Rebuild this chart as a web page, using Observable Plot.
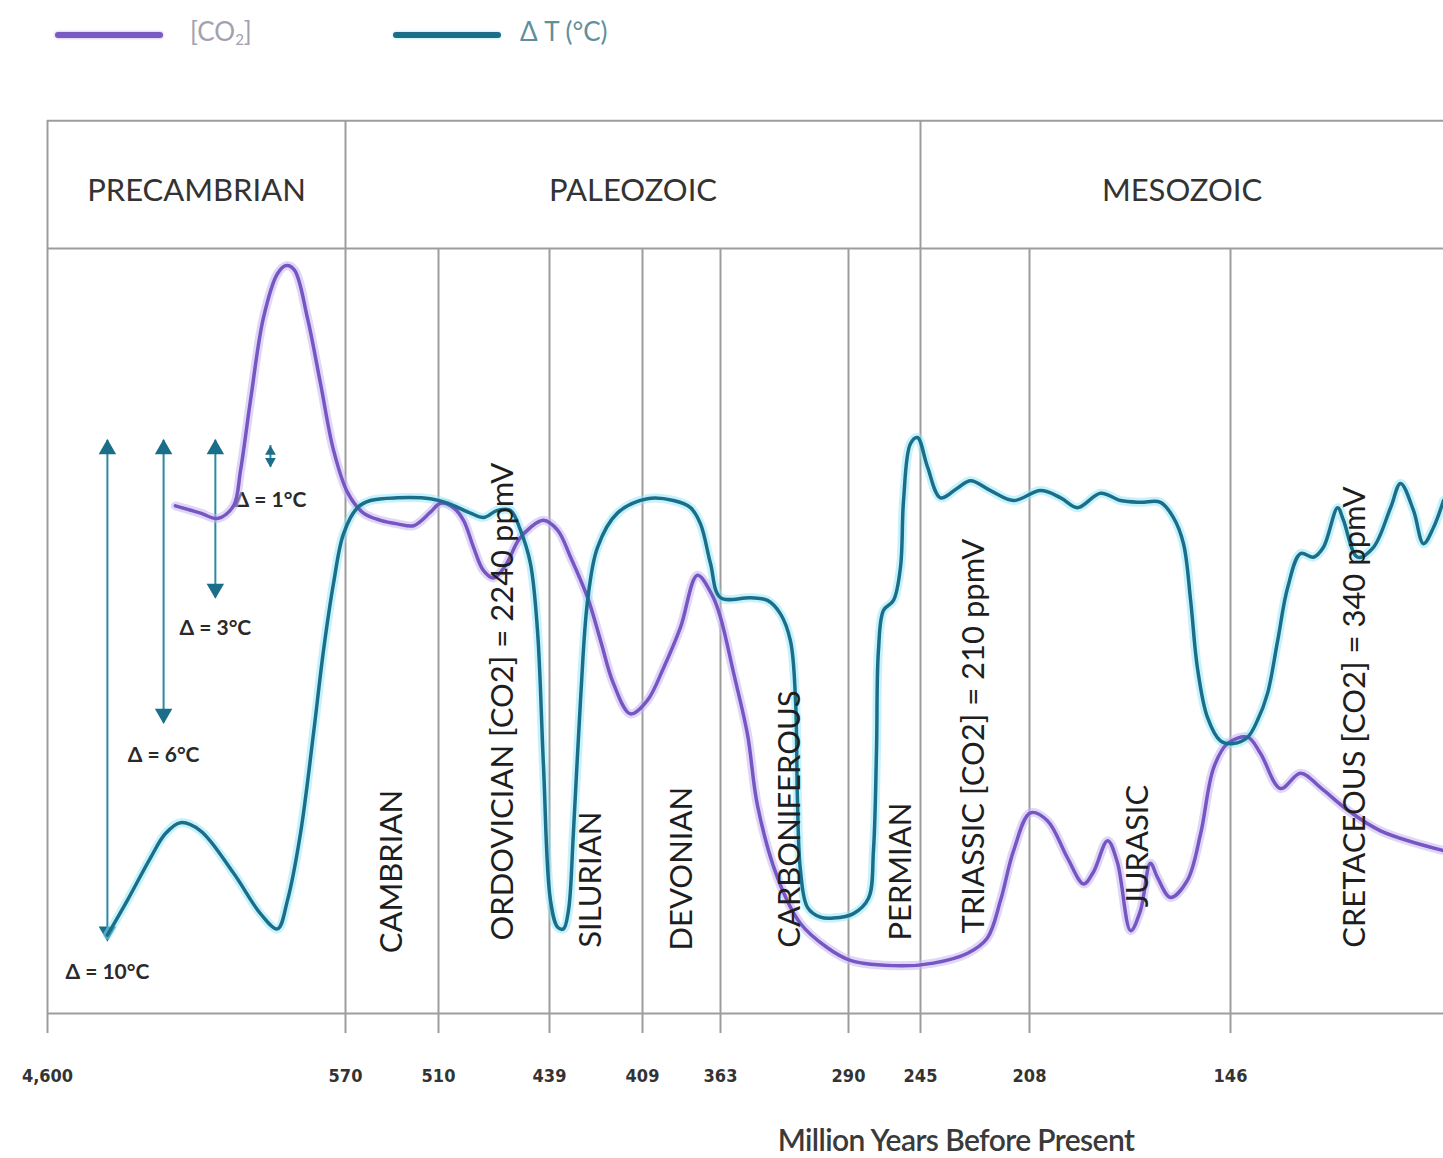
<!DOCTYPE html>
<html><head><meta charset="utf-8">
<script src="https://cdn.jsdelivr.net/npm/d3@7"></script>
<script src="https://cdn.jsdelivr.net/npm/@observablehq/plot@0.6"></script>
<style>
body{margin:0;background:#fff;width:1443px;height:1158px;overflow:hidden;font-family:Lato,"Open Sans",sans-serif;}
#legend{position:relative;height:80px;}
.sw{position:absolute;top:32px;height:6px;border-radius:3px;}
.lt{position:absolute;top:14px;font-size:26px;line-height:34px;white-space:nowrap;}
.lt sub{font-size:15px;vertical-align:-4px;}
#caption{position:relative;height:38px;}
#caption span{position:absolute;left:956px;transform:translateX(-50%);top:0;line-height:38px;font-size:30px;font-weight:600;letter-spacing:-0.6px;color:#3a3a3a;white-space:nowrap;}
</style></head><body>
<div id="legend">
  <div class="sw" style="left:55px;width:108px;background:#7a5bc4;box-shadow:0 0 3px #b9a3f0"></div>
  <div class="lt" style="left:190px;color:#a3a0b0">[CO<sub>2</sub>]</div>
  <div class="sw" style="left:393px;width:108px;background:#1b6e8a;box-shadow:0 0 3px #8ee3f5"></div>
  <div class="lt" style="left:520px;color:#5f8f9a">Δ T (°C)</div>
</div>
<div id="chart"></div>
<div id="caption"><span>Million Years Before Present</span></div>
<script>
// ---- data ----
const tickValues = [4600, 570, 510, 439, 409, 363, 290, 245, 208, 146];
const eraNames = ["PRECAMBRIAN", "PALEOZOIC", "MESOZOIC"];
const eraStart = [4600, 570, 245];
const eraEnd = [570, 245, 80];
const periodNames = ["CAMBRIAN", "ORDOVICIAN [CO2] = 2240 ppmV", "SILURIAN", "DEVONIAN", "CARBONIFEROUS",
  "PERMIAN", "TRIASSIC [CO2] = 210 ppmV", "JURASIC", "CRETACEOUS [CO2] = 340 ppmV"];
const periodLabelMa = [540, 469, 425.5, 385.4, 323.1, 256.9, 226.7, 174.4, 107.3];
const periodLabelLevel = [6.7, 8.1, 7.3, 7.0, 7.3, 8.1, 8.9, 11.8, 7.3];

const co2Ma = [2870,2530,2300,2085,1990,1855,1680,1490,1370,1260,1085,908,732,568.7,558.4,547.4,536.4,526.1,515.2,508.7,500.4,494.0,487.6,481.2,474.8,467.1,458.8,451.2,442.8,436.4,432.2,426.7,422.5,418.4,412.9,406.1,396.6,386.6,376.6,367.7,363,355.6,347.6,341.9,330.5,317.4,302.0,288.8,257.5,240.6,229.0,222.3,217.8,213.4,207.7,202.4,196.3,191.3,188.3,183.9,180.9,176.8,173.8,170.7,168.5,164.5,159.3,155.2,151.2,146.9,140.7,136.7,130.5,124.3,118.1,109.7,99.5,80];
const co2Level = [56.4,55.6,55.0,56.4,60.3,68.1,77.3,82.2,83.1,82.6,77.3,70.0,62.6,57.9,55.6,54.8,54.4,54.2,55.7,56.7,56.2,54.8,51.8,49.2,48.4,49.8,52.6,54.0,54.8,53.7,50.7,46.2,41.4,36.7,33.3,34.8,38.4,42.9,48.7,46.4,44.0,37.9,31.0,23.1,15.1,10.0,7.3,5.9,5.3,5.6,6.7,8.4,12.6,18.1,22.3,21.4,17.3,14.4,15.7,19.2,16.8,9.2,11.4,16.7,15.1,12.9,14.8,20.0,27.3,30.0,30.7,28.9,25.0,26.7,25.1,22.6,20.3,18.1];

const tempMa = [3790,3518,3207,3004,2801,2531,2085,1720,1490,1354,1179,1003,868,732,597,562.3,553.9,536.4,515.2,504.2,489.5,481.2,472.3,463.9,457.6,451.2,446.7,442.8,438.7,436.4,434.5,432.9,431.3,429.0,426.7,423.5,417.1,406.1,390.7,380.7,374.8,368.9,363,345.9,336.2,328.8,323.1,320.2,319.1,317.4,313.4,306.0,298.6,286.9,277.5,274.4,272.5,271.3,268.1,261.9,257.5,255.6,251.3,246.9,242.6,238.2,232.4,228.0,221.2,213.4,204.6,198.4,193.2,186.1,179.9,173.8,167.6,163.6,160.5,158.3,156.2,153.1,149.1,145.1,140.7,137.6,134.5,131.4,128.3,124.3,120.3,117.2,112.8,111.0,106.6,101.7,96.4,93.3,89.3,86.2,83.1,80];
const tempLevel = [8.7,12.6,17.3,20.0,21.2,20.3,15.6,11.1,9.4,12.6,20.0,31.1,40.3,47.8,53.3,56.2,57.0,57.3,57.2,56.7,55.6,55.1,55.9,55.9,53.7,50.0,42.6,27.3,12.6,9.6,9.4,11.4,20.0,34.8,45.9,51.8,55.6,57.2,57.0,56.2,54.4,50.0,46.2,46.2,45.9,44.4,41.4,34.8,23.7,15.9,11.8,10.7,10.6,11.1,12.8,18.1,29.2,40.3,44.8,45.9,49.6,57.0,63.3,64.0,60.7,57.3,58.4,59.2,58.1,57.0,58.1,57.3,56.2,57.8,57.0,56.8,56.8,55.1,52.2,45.9,38.4,32.9,30.3,30.0,30.7,32.6,35.6,41.4,47.3,51.1,50.7,51.8,56.2,54.8,50.7,51.8,56.2,58.9,55.9,52.2,54.0,57.0];

const deltaValues = [10, 6, 3, 1];
const deltaMa = [3790, 3030, 2330, 1585];
const deltaTop = [63.7, 63.7, 63.7, 63.1];
const deltaBottom = [8.1, 32.3, 46.2, 60.7];
const deltaLabelLevel = [4.6, 28.7, 42.8, 57.0];

// ---- layout config ----
const xDomain = [...tickValues, 80];
const xRange = [47, 345, 438, 549, 642, 720, 848, 920, 1029, 1230, 1443];
const frameTop = 99.2, eraLine = 85;
const purple = "#7556c2", purpleHalo = "#c6b4f3";
const teal = "#1b6e8a", tealHalo = "#8ee6f8";
const grid = "#9d9d9d";

const xs = Plot.scale({x: {type: "linear", domain: xDomain, range: xRange}});
const eras = eraNames.map((name, i) => ({name, x: xs.invert((xs.apply(eraStart[i]) + xs.apply(eraEnd[i])) / 2)}));
const periods = periodNames.map((name, i) => ({name, x: periodLabelMa[i], y: periodLabelLevel[i]}));
const co2 = co2Ma.map((x, i) => ({x, y: co2Level[i]}));
const temp = tempMa.map((x, i) => ({x, y: tempLevel[i]}));
const deltas = deltaValues.map((d, i) => ({d, x: deltaMa[i], top: deltaTop[i], bottom: deltaBottom[i], ly: deltaLabelLevel[i], small: d === 1}));
const eraBounds = tickValues.filter(t => eraStart.includes(t));
const periodBounds = tickValues.filter(t => !eraStart.includes(t));

const chart = Plot.plot({
  width: 1443, height: 1040,
  marginTop: 33, marginBottom: 107, marginLeft: 47, marginRight: 0,
  x: {type: "linear", domain: xDomain, range: xRange},
  y: {domain: [0, 100], axis: null},
  style: {background: "white", fontFamily: "Lato, 'Open Sans', sans-serif", color: "#333", overflow: "visible"},
  marks: [
    Plot.ruleY([0], {stroke: grid, strokeWidth: 2}),
    Plot.ruleY([frameTop, eraLine], {x1: 4600, x2: 80, stroke: grid, strokeWidth: 2}),
    Plot.ruleX(eraBounds, {y1: 0, y2: frameTop, stroke: grid, strokeWidth: 2}),
    Plot.ruleX(periodBounds, {y1: 0, y2: eraLine, stroke: grid, strokeWidth: 2}),
    Plot.axisX({ticks: tickValues, tickSize: 20, tickPadding: 36, tickFormat: d3.format(","), label: null,
      fontSize: 18, fontWeight: "bold", fontFamily: "'Liberation Sans Narrow', 'DejaVu Sans Condensed', sans-serif",
      stroke: grid, strokeWidth: 2, fill: "#333"}),
    Plot.text(eras, {x: "x", y: (frameTop + eraLine) / 2, dy: 6, text: "name", fontSize: 31, fill: "#333"}),
    // annotation arrows
    Plot.ruleX(deltas, {x: "x", y1: "top", y2: "bottom", stroke: "#2a8aa3", strokeWidth: 2}),
    Plot.dot(deltas.filter(d => !d.small), {x: "x", y: "top", symbol: "triangle", r: 6.5, fill: teal, stroke: null, dy: 9}),
    Plot.dot(deltas.filter(d => !d.small), {x: "x", y: "bottom", symbol: "triangle", r: 6.5, fill: teal, stroke: null, rotate: 180, dy: -9}),
    Plot.dot(deltas.filter(d => d.small), {x: "x", y: "top", symbol: "triangle", r: 4, fill: teal, stroke: null, dy: 6}),
    Plot.dot(deltas.filter(d => d.small), {x: "x", y: "bottom", symbol: "triangle", r: 4, fill: teal, stroke: null, rotate: 180, dy: -6}),
    Plot.text(deltas, {x: "x", y: "ly", text: d => `Δ = ${d.d}°C`, fontSize: 21, fontWeight: "bold", fill: "#2a2a2a"}),
    // curves
    Plot.line(co2, {x: "x", y: "y", curve: "catmull-rom", stroke: purpleHalo, strokeWidth: 9, strokeOpacity: 0.55}),
    Plot.line(temp, {x: "x", y: "y", curve: "catmull-rom", stroke: tealHalo, strokeWidth: 9, strokeOpacity: 0.5}),
    Plot.line(co2, {x: "x", y: "y", curve: "catmull-rom", stroke: purple, strokeWidth: 3.5}),
    Plot.line(temp, {x: "x", y: "y", curve: "catmull-rom", stroke: teal, strokeWidth: 3.5}),
    Plot.text(periods, {x: "x", y: "y", text: "name", rotate: -90, textAnchor: "start", fontSize: 31, fill: "#1e1e1e"})
  ]
});
document.getElementById("chart").appendChild(chart);
</script>
</body></html>
